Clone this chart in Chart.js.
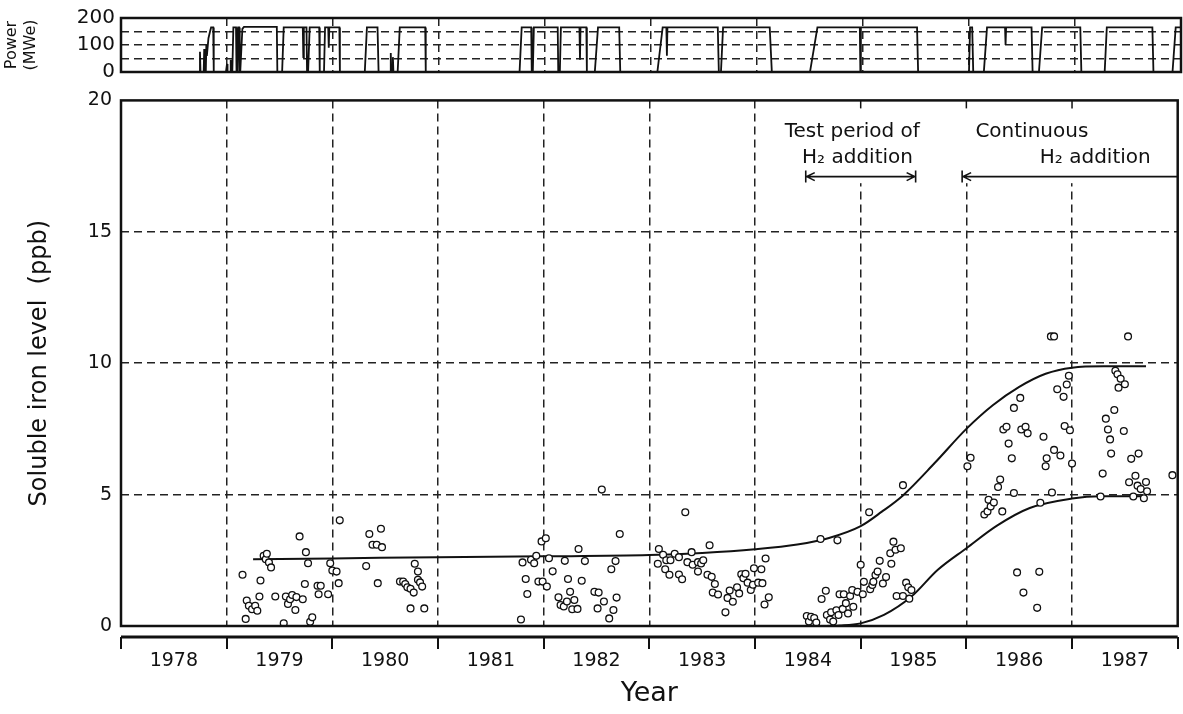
<!DOCTYPE html>
<html>
<head>
<meta charset="utf-8">
<script src="https://cdn.jsdelivr.net/npm/chart.js@4.4.1/dist/chart.umd.min.js"></script>
<style>
  html, body { margin: 0; padding: 0; background: #fff; }
  #wrap { position: relative; width: 1183px; height: 714px; }
  #powerBox { position: absolute; left: 0; top: 0; width: 1183px; height: 90px; }
  #ironBox { position: absolute; left: 0; top: 80px; width: 1183px; height: 634px; }
</style>
</head>
<body>
<div id="wrap">
  <div id="powerBox"><canvas id="powerChart"></canvas></div>
  <div id="ironBox"><canvas id="ironChart"></canvas></div>
</div>
<script>
// ---- data ----
const yearBoundaries = [1978, 1979, 1980, 1981, 1982, 1983, 1984, 1985, 1986, 1987, 1988];
const yearLabelPos = [1978.5, 1979.5, 1980.5, 1981.5, 1982.5, 1983.5, 1984.5, 1985.5, 1986.5, 1987.5];
const yearLabels = ['1978', '1979', '1980', '1981', '1982', '1983', '1984', '1985', '1986', '1987'];
const ironTicks = [0, 5, 10, 15, 20];
const powerTicks = [0, 50, 100, 150, 200];

// plant electrical output (MWe)
const powerYears = [
  1978.00, 1978.74, 1978.745, 1978.75, 1978.78, 1978.785, 1978.79, 1978.80, 1978.805, 1978.81,
  1978.825, 1978.84, 1978.85, 1978.87, 1978.875, 1978.99, 1979.00, 1979.005, 1979.03, 1979.035,
  1979.04, 1979.05, 1979.06, 1979.085, 1979.09, 1979.10, 1979.105, 1979.115, 1979.12, 1979.125,
  1979.145, 1979.16, 1979.47, 1979.475, 1979.52, 1979.535, 1979.715, 1979.72, 1979.725, 1979.75,
  1979.755, 1979.765, 1979.78, 1979.87, 1979.875, 1979.915, 1979.925, 1979.955, 1979.96, 1979.965,
  1980.06, 1980.065, 1980.30, 1980.32, 1980.42, 1980.43, 1980.54, 1980.545, 1980.55, 1980.56,
  1980.565, 1980.57, 1980.61, 1980.63, 1980.87, 1980.875, 1981.76, 1981.78, 1981.87, 1981.875,
  1981.885, 1981.895, 1982.12, 1982.125, 1982.14, 1982.15, 1982.325, 1982.33, 1982.335, 1982.39,
  1982.395, 1982.47, 1982.50, 1982.70, 1982.71, 1983.06, 1983.11, 1983.145, 1983.15, 1983.155,
  1983.63, 1983.64, 1983.66, 1983.68, 1984.12, 1984.14, 1984.50, 1984.57, 1984.97, 1984.975,
  1984.98, 1985.51, 1985.52, 1986.00, 1986.01, 1986.03, 1986.04, 1986.14, 1986.17, 1986.34,
  1986.345, 1986.35, 1986.59, 1986.60, 1986.66, 1986.69, 1987.05, 1987.06, 1987.28, 1987.30,
  1987.73, 1987.74, 1987.92, 1987.95, 1988.00
];
const powerMWe = [
  0, 0, 75, 0, 0, 85, 0, 0, 100, 60,
  125, 150, 165, 165, 0, 0, 30, 0, 0, 45,
  0, 0, 165, 165, 0, 0, 165, 165, 0, 0,
  160, 167, 167, 0, 0, 165, 165, 55, 165, 165,
  0, 0, 165, 165, 0, 0, 165, 165, 90, 165,
  165, 0, 0, 165, 165, 0, 0, 70, 0, 0,
  55, 0, 0, 165, 165, 0, 0, 165, 165, 0,
  0, 165, 165, 0, 0, 165, 165, 45, 165, 165,
  0, 0, 165, 165, 0, 0, 165, 165, 60, 165,
  165, 0, 0, 165, 165, 0, 0, 165, 165, 0,
  165, 165, 0, 0, 165, 165, 0, 0, 165, 165,
  100, 165, 165, 0, 0, 165, 165, 0, 0, 165,
  165, 0, 0, 165, 165
];

// soluble iron measurements (ppb)
const ironYears = [
  1979.15, 1979.18, 1979.19, 1979.21, 1979.24, 1979.27, 1979.29, 1979.31, 1979.32, 1979.35,
  1979.37, 1979.38, 1979.40, 1979.42, 1979.46, 1979.54, 1979.56, 1979.58, 1979.60, 1979.62,
  1979.65, 1979.66, 1979.69, 1979.72, 1979.74, 1979.75, 1979.77, 1979.79, 1979.81, 1979.86,
  1979.89, 1979.87, 1979.96, 1979.98, 1980.00, 1980.04, 1980.06, 1980.07, 1980.32, 1980.35,
  1980.38, 1980.42, 1980.46, 1980.47, 1980.43, 1980.64, 1980.67, 1980.69, 1980.71, 1980.74,
  1980.77, 1980.78, 1980.81, 1980.81, 1980.83, 1980.85, 1980.74, 1980.87,
  1981.785, 1981.80, 1981.83, 1981.845, 1981.88, 1981.91, 1981.93, 1981.95, 1981.98, 1982.02,
  1981.99, 1982.03, 1982.05, 1982.085, 1982.14, 1982.16, 1982.19, 1982.20, 1982.22, 1982.23,
  1982.25, 1982.27, 1982.29, 1982.32, 1982.33, 1982.36, 1982.39, 1982.48, 1982.51, 1982.52,
  1982.55, 1982.57, 1982.62, 1982.64, 1982.66, 1982.68, 1982.69, 1982.72,
  1983.08, 1983.09, 1983.13, 1983.15, 1983.16, 1983.19, 1983.20, 1983.24, 1983.28, 1983.28,
  1983.31, 1983.34, 1983.36, 1983.40, 1983.41, 1983.46, 1983.46, 1983.49, 1983.51, 1983.55,
  1983.57, 1983.59, 1983.60, 1983.62, 1983.65, 1983.72, 1983.74, 1983.76, 1983.79, 1983.83,
  1983.85, 1983.87, 1983.89, 1983.91, 1983.93, 1983.96, 1983.98, 1983.99, 1984.03, 1984.06,
  1984.07, 1984.09, 1984.10, 1984.13,
  1984.49, 1984.51, 1984.53, 1984.56, 1984.58, 1984.62, 1984.63, 1984.67, 1984.68, 1984.71,
  1984.72, 1984.74, 1984.77, 1984.78, 1984.79, 1984.80, 1984.83, 1984.84, 1984.86, 1984.88,
  1984.90, 1984.92, 1984.93, 1984.97, 1985.00, 1985.02, 1985.03, 1985.08, 1985.09, 1985.11,
  1985.12, 1985.14, 1985.16, 1985.18, 1985.21, 1985.24, 1985.28, 1985.29, 1985.31, 1985.33,
  1985.34, 1985.38, 1985.40, 1985.40, 1985.43, 1985.45, 1985.46, 1985.48,
  1986.01, 1986.04, 1986.17, 1986.20, 1986.21, 1986.23, 1986.26, 1986.30, 1986.32, 1986.34,
  1986.35, 1986.38, 1986.40, 1986.43, 1986.45, 1986.45, 1986.48, 1986.51, 1986.52, 1986.54,
  1986.56, 1986.58, 1986.67, 1986.69, 1986.70, 1986.73, 1986.75, 1986.76, 1986.80, 1986.83,
  1986.81, 1986.83, 1986.86, 1986.89, 1986.92, 1986.93, 1986.95, 1986.97, 1986.98, 1987.00,
  1987.27, 1987.29, 1987.32, 1987.34, 1987.36, 1987.37, 1987.40, 1987.41, 1987.43, 1987.44,
  1987.46, 1987.49, 1987.50, 1987.53, 1987.54, 1987.56, 1987.58, 1987.60, 1987.62, 1987.63,
  1987.65, 1987.68, 1987.70, 1987.71, 1987.95
];
const ironPpb = [
  1.95, 0.27, 0.97, 0.77, 0.64, 0.77, 0.58, 1.12, 1.73, 2.67,
  2.54, 2.75, 2.42, 2.23, 1.12, 0.10, 1.12, 0.84, 1.02, 1.18,
  0.61, 1.10, 3.41, 1.02, 1.60, 2.81, 2.39, 0.16, 0.33, 1.53,
  1.53, 1.21, 1.21, 2.39, 2.11, 2.07, 1.63, 4.02, 2.28, 3.50,
  3.09, 3.09, 3.70, 3.00, 1.63, 1.69, 1.69, 1.60, 1.47, 1.42,
  1.27, 2.37, 2.07, 1.76, 1.66, 1.50, 0.67, 0.67,
  0.25, 2.42, 1.79, 1.22, 2.52, 2.39, 2.67, 1.69, 3.22, 3.34,
  1.69, 1.50, 2.58, 2.08, 1.09, 0.80, 0.74, 2.48, 0.93, 1.79,
  1.30, 0.64, 0.99, 0.65, 2.93, 1.72, 2.47, 1.30, 0.67, 1.27,
  5.19, 0.93, 0.29, 2.16, 0.61, 2.47, 1.08, 3.50,
  2.37, 2.93, 2.71, 2.16, 2.50, 1.95, 2.50, 2.75, 2.62, 1.96,
  1.78, 4.33, 2.43, 2.81, 2.33, 2.43, 2.07, 2.38, 2.50, 1.95,
  3.07, 1.87, 1.27, 1.60, 1.20, 0.52, 1.07, 1.35, 0.92, 1.47,
  1.24, 1.97, 1.82, 1.99, 1.65, 1.37, 1.57, 2.20, 1.65, 2.16,
  1.63, 0.82, 2.57, 1.09,
  0.38, 0.17, 0.35, 0.30, 0.13, 3.31, 1.03, 1.34, 0.42, 0.25,
  0.52, 0.17, 0.60, 3.26, 0.42, 1.21, 0.65, 1.21, 0.87, 0.48,
  1.14, 1.37, 0.73, 1.30, 2.33, 1.21, 1.68, 4.33, 1.40, 1.56,
  1.68, 1.94, 2.07, 2.48, 1.62, 1.86, 2.77, 2.37, 3.21, 2.90,
  1.14, 2.96, 1.14, 5.36, 1.65, 1.47, 1.04, 1.37,
  6.08, 6.40, 4.24, 4.36, 4.80, 4.55, 4.70, 5.29, 5.57, 4.36,
  7.48, 7.58, 6.94, 6.38, 8.30, 5.06, 2.04, 8.68, 7.48, 1.27,
  7.58, 7.33, 0.69, 2.06, 4.69, 7.20, 6.08, 6.38, 11.02, 11.02,
  5.08, 6.70, 9.01, 6.49, 8.72, 7.61, 9.19, 9.52, 7.45, 6.18,
  4.93, 5.80, 7.89, 7.48, 7.10, 6.56, 8.22, 9.71, 9.58, 9.07,
  9.41, 7.42, 9.20, 11.02, 5.47, 6.36, 4.93, 5.72, 5.34, 6.56,
  5.21, 4.86, 5.48, 5.13, 5.74
];

// hand-drawn trend curves
const upperYears = [1979.25, 1980.0, 1981.0, 1982.0, 1983.0, 1983.5, 1984.0, 1984.4, 1984.7, 1985.0,
  1985.2, 1985.4, 1985.7, 1986.0, 1986.25, 1986.5, 1986.75, 1987.0, 1987.3, 1987.7];
const upperPpb = [2.54, 2.57, 2.62, 2.65, 2.70, 2.78, 2.92, 3.10, 3.35, 3.80,
  4.35, 4.97, 6.20, 7.50, 8.40, 9.10, 9.60, 9.83, 9.88, 9.88];
const lowerYears = [1984.6, 1984.8, 1985.0, 1985.22, 1985.48, 1985.73, 1986.0, 1986.29, 1986.6, 1987.0, 1987.27, 1987.68];
const lowerPpb = [0, 0.02, 0.10, 0.42, 1.12, 2.14, 2.96, 3.82, 4.49, 4.85, 4.94, 4.94];

const toXY = (xs, ys) => xs.map((x, i) => ({ x: x, y: ys[i] }));

const INK = '#111';
const FONT = '"DejaVu Sans", Verdana, sans-serif';
const gridDash = [8, 5];

// frame around the plot area
const frame = {
  id: 'frame',
  afterDatasetsDraw(chart) {
    const a = chart.chartArea, c = chart.ctx;
    c.save();
    c.strokeStyle = INK;
    c.lineWidth = 2.5;
    c.strokeRect(a.left, a.top, a.right - a.left, a.bottom - a.top);
    c.restore();
  }
};

// detached time axis under the iron plot
const timeAxis = {
  id: 'timeAxis',
  afterDraw(chart) {
    const x = chart.scales.x, a = chart.chartArea, c = chart.ctx;
    const y0 = a.bottom + 11;
    c.save();
    c.strokeStyle = INK;
    c.lineWidth = 3;
    c.beginPath();
    c.moveTo(x.getPixelForValue(1978), y0);
    c.lineTo(x.getPixelForValue(1988), y0);
    c.stroke();
    c.lineWidth = 2;
    yearBoundaries.forEach(v => {
      const px = Math.round(x.getPixelForValue(v));
      c.beginPath();
      c.moveTo(px, y0);
      c.lineTo(px, y0 + 12);
      c.stroke();
    });
    c.restore();
  }
};

// text labels and arrows for the hydrogen addition periods
const notes = {
  id: 'notes',
  beforeDatasetsDraw(chart) {
    // the dashed grid stops short of the annotation block
    const x = chart.scales.x, y = chart.scales.y, a = chart.chartArea, c = chart.ctx;
    const left = x.getPixelForValue(1984.2), bottom = y.getPixelForValue(16.85);
    c.save();
    c.fillStyle = '#fff';
    c.fillRect(left, a.top, a.right - left, bottom - a.top);
    c.strokeStyle = INK;
    c.lineWidth = 1.5;
    [1985, 1986, 1987].forEach(v => {
      const px = x.getPixelForValue(v);
      c.beginPath();
      c.moveTo(px, a.top);
      c.lineTo(px, a.top + 8);
      c.stroke();
    });
    c.restore();
  },
  afterDraw(chart) {
    const x = chart.scales.x, y = chart.scales.y, c = chart.ctx;
    c.save();
    c.fillStyle = INK;
    c.font = '20px ' + FONT;
    c.textAlign = 'center';
    c.textBaseline = 'middle';
    c.fillText('Test period of', x.getPixelForValue(1984.92), y.getPixelForValue(18.8));
    c.fillText('H\u2082 addition', x.getPixelForValue(1984.97), y.getPixelForValue(17.8));
    c.fillText('Continuous', x.getPixelForValue(1986.62), y.getPixelForValue(18.8));
    c.fillText('H\u2082 addition', x.getPixelForValue(1987.22), y.getPixelForValue(17.8));

    const ay = y.getPixelForValue(17.1);
    const arrow = (x1, x2, capRight) => {
      c.strokeStyle = INK;
      c.lineWidth = 1.6;
      c.beginPath();
      c.moveTo(x1, ay); c.lineTo(x2, ay);
      c.moveTo(x1, ay - 6); c.lineTo(x1, ay + 6);
      c.moveTo(x1 + 9, ay - 4); c.lineTo(x1 + 1, ay); c.lineTo(x1 + 9, ay + 4);
      if (capRight) {
        c.moveTo(x2, ay - 6); c.lineTo(x2, ay + 6);
        c.moveTo(x2 - 9, ay - 4); c.lineTo(x2 - 1, ay); c.lineTo(x2 - 9, ay + 4);
      }
      c.stroke();
    };
    arrow(x.getPixelForValue(1984.48), x.getPixelForValue(1985.52), true);
    arrow(x.getPixelForValue(1985.96), x.getPixelForValue(1988), false);
    c.restore();
  }
};

const edgeHidden = (lo, hi) => ctx =>
  (ctx.tick && (ctx.tick.value === lo || ctx.tick.value === hi)) ? 'rgba(0,0,0,0)' : '#222';

// ---- power chart ----
new Chart(document.getElementById('powerChart'), {
  type: 'line',
  data: {
    datasets: [{
      data: toXY(powerYears, powerMWe),
      borderColor: INK,
      borderWidth: 1.8,
      pointRadius: 0,
      tension: 0,
      fill: false
    }]
  },
  options: {
    responsive: true,
    maintainAspectRatio: false,
    animation: false,
    layout: { padding: { top: 17, bottom: 17, right: 2, left: 0 } },
    plugins: { legend: { display: false }, tooltip: { enabled: false } },
    scales: {
      x: {
        type: 'linear', min: 1978, max: 1988,
        afterBuildTicks: s => { s.ticks = yearBoundaries.map(v => ({ value: v })); },
        afterFit: s => { s.height = 0; },
        ticks: { display: false },
        border: { display: false, dash: gridDash },
        grid: { drawTicks: false, color: edgeHidden(1978, 1988), lineWidth: 1.5 }
      },
      y: {
        min: 0, max: 200,
        afterBuildTicks: s => { s.ticks = powerTicks.map(v => ({ value: v })); },
        afterFit: s => { s.width = 121; },
        ticks: {
          color: INK, padding: 6, autoSkip: false, font: { family: FONT, size: 20 },
          callback: v => (v % 100 === 0 ? String(v) : '')
        },
        border: { display: false, dash: gridDash },
        grid: { drawTicks: false, color: edgeHidden(0, 200), lineWidth: 1.5 },
        title: {
          display: true, text: ['Power', '(MWe)'], color: INK,
          font: { family: FONT, size: 16 }, padding: { top: 2, bottom: 0 }
        }
      }
    }
  },
  plugins: [frame]
});

// ---- soluble iron chart ----
new Chart(document.getElementById('ironChart'), {
  type: 'scatter',
  data: {
    datasets: [
      {
        label: 'Soluble iron',
        data: toXY(ironYears, ironPpb),
        pointStyle: 'circle',
        pointRadius: 3.4,
        pointBorderWidth: 1.3,
        borderColor: INK,
        backgroundColor: '#fff',
        order: 1
      },
      {
        type: 'line',
        label: 'Upper trend',
        data: toXY(upperYears, upperPpb),
        borderColor: INK,
        borderWidth: 2,
        pointRadius: 0,
        cubicInterpolationMode: 'monotone',
        fill: false,
        order: 2
      },
      {
        type: 'line',
        label: 'Lower trend',
        data: toXY(lowerYears, lowerPpb),
        borderColor: INK,
        borderWidth: 2,
        pointRadius: 0,
        cubicInterpolationMode: 'monotone',
        fill: false,
        order: 2
      }
    ]
  },
  options: {
    responsive: true,
    maintainAspectRatio: false,
    animation: false,
    layout: { padding: { top: 20, bottom: 0, right: 2, left: 0 } },
    plugins: { legend: { display: false }, tooltip: { enabled: false } },
    scales: {
      x: {
        type: 'linear', min: 1978, max: 1988, position: 'bottom',
        afterBuildTicks: s => { s.ticks = yearBoundaries.map(v => ({ value: v })); },
        afterFit: s => { s.height = 0; },
        ticks: { display: false },
        border: { display: false, dash: gridDash },
        grid: { drawTicks: false, color: edgeHidden(1978, 1988), lineWidth: 1.5 }
      },
      x2: {
        type: 'linear', min: 1978, max: 1988, position: 'bottom',
        afterBuildTicks: s => { s.ticks = yearLabelPos.map(v => ({ value: v })); },
        afterFit: s => { s.height = 88; },
        ticks: {
          color: INK, padding: 24, font: { family: FONT, size: 19 }, maxRotation: 0,
          autoSkip: false,
          callback: (v, i) => yearLabels[i]
        },
        border: { display: false },
        grid: { display: false, drawTicks: false },
        title: {
          display: true, text: 'Year', color: INK,
          font: { family: FONT, size: 27 }, padding: { top: 0, bottom: 4 }
        }
      },
      y: {
        min: 0, max: 20,
        afterBuildTicks: s => { s.ticks = ironTicks.map(v => ({ value: v })); },
        afterFit: s => { s.width = 121; },
        ticks: { color: INK, padding: 9, autoSkip: false, font: { family: FONT, size: 19 } },
        border: { display: false, dash: gridDash },
        grid: { drawTicks: false, color: edgeHidden(0, 20), lineWidth: 1.5 },
        title: {
          display: true, text: 'Soluble iron level  (ppb)', color: INK,
          font: { family: FONT, size: 24 }, padding: { top: 25, bottom: 0 }
        }
      }
    }
  },
  plugins: [frame, timeAxis, notes]
});
</script>
</body>
</html>
